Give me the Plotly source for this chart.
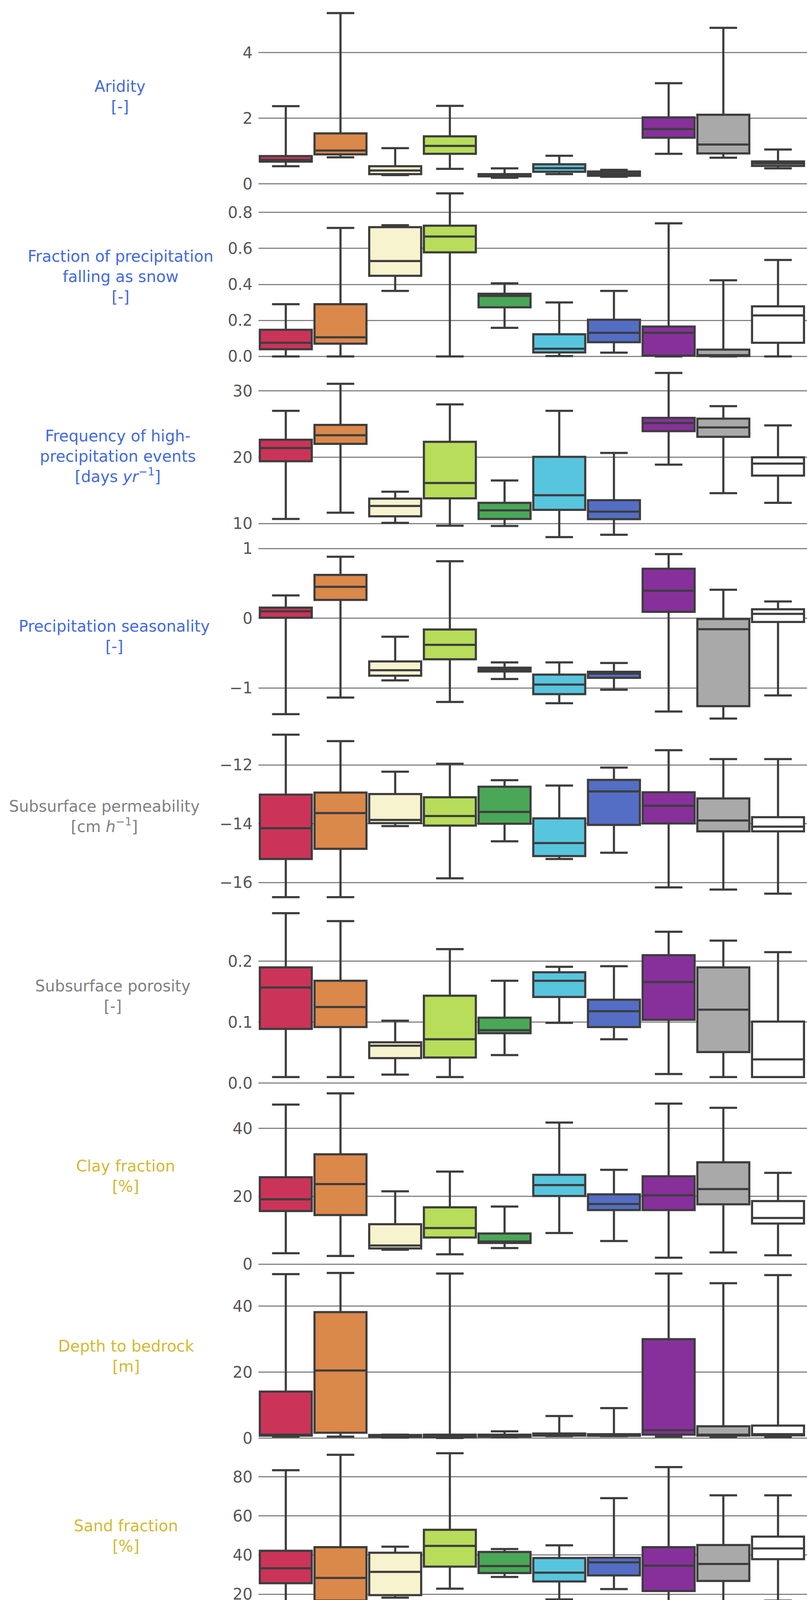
import plotly.graph_objects as go
from plotly.subplots import make_subplots

clusters = [1, 2, 3, 4, 5, 6, 7, 8, 9, 10]
cluster_colors = ["#CB3458", "#DB884B", "#F7F3CF", "#B7DD5A", "#4AA757",
                  "#58C5DF", "#546EC6", "#87309C", "#A9A9A9", "#FFFFFF"]

group_names = ["Climate", "Geology", "Soil", "Topography", "Vegetation"]
group_colors = ["#4169E1", "#808080", "#D4B830", "#D63D33", "#228B22"]

# rows: lower whisker, Q1, median, Q3, upper whisker ; columns: clusters 1..10
aridity = [
    [0.54, 0.81, 0.27, 0.46, 0.19, 0.30, 0.22, 0.92, 0.80, 0.475],
    [0.68, 0.90, 0.30, 0.92, 0.23, 0.37, 0.25, 1.41, 0.93, 0.55],
    [0.73, 1.02, 0.41, 1.16, 0.265, 0.48, 0.31, 1.675, 1.20, 0.62],
    [0.85, 1.54, 0.54, 1.45, 0.30, 0.60, 0.38, 2.03, 2.11, 0.685],
    [2.37, 5.21, 1.09, 2.38, 0.475, 0.86, 0.43, 3.07, 4.76, 1.05],
]
snow = [
    [0.0, 0.0, 0.364, 0.0, 0.159, 0.002, 0.021, 0.0, 0.0, 0.0],
    [0.040, 0.071, 0.448, 0.578, 0.273, 0.022, 0.079, 0.005, 0.002, 0.076],
    [0.076, 0.106, 0.53, 0.666, 0.336, 0.043, 0.131, 0.131, 0.007, 0.228],
    [0.148, 0.29, 0.718, 0.726, 0.348, 0.123, 0.204, 0.166, 0.038, 0.278],
    [0.29, 0.714, 0.729, 0.906, 0.406, 0.30, 0.364, 0.739, 0.423, 0.536],
]
high_prec = [
    [10.70, 11.64, 10.12, 9.69, 9.65, 7.96, 8.32, 18.88, 14.58, 13.13],
    [19.39, 22.02, 11.10, 13.80, 10.70, 12.07, 10.67, 23.93, 23.07, 17.24],
    [21.39, 23.31, 12.66, 16.11, 12.0, 14.27, 11.80, 25.15, 24.48, 19.04],
    [22.64, 24.87, 13.76, 22.33, 13.13, 20.06, 13.52, 25.93, 25.81, 19.98],
    [26.99, 31.06, 14.81, 27.96, 16.50, 26.99, 20.65, 32.70, 27.69, 24.79],
]
seasonality = [
    [-1.374, -1.136, -0.890, -1.199, -0.871, -1.218, -1.024, -1.337, -1.438, -1.106],
    [0.007, 0.264, -0.823, -0.588, -0.763, -1.087, -0.853, 0.093, -1.259, -0.052],
    [0.10, 0.451, -0.745, -0.380, -0.734, -0.950, -0.793, 0.395, -0.156, 0.063],
    [0.153, 0.622, -0.618, -0.160, -0.708, -0.808, -0.767, 0.711, -0.011, 0.130],
    [0.328, 0.883, -0.264, 0.819, -0.633, -0.633, -0.641, 0.920, 0.410, 0.242],
]
permeability = [
    [-16.50, -16.50, -14.08, -15.86, -14.60, -15.20, -14.99, -16.17, -16.24, -16.38],
    [-15.20, -14.855, -13.98, -14.065, -14.00, -15.10, -14.04, -13.99, -14.26, -14.26],
    [-14.155, -13.64, -13.87, -13.74, -13.60, -14.66, -12.90, -13.39, -13.89, -14.10],
    [-13.01, -12.94, -12.99, -13.10, -12.74, -13.82, -12.51, -12.93, -13.14, -13.78],
    [-10.97, -11.19, -12.23, -11.96, -12.52, -12.70, -12.09, -11.5, -11.80, -11.80],
]
porosity = [
    [0.010, 0.010, 0.014, 0.010, 0.046, 0.099, 0.072, 0.015, 0.010, 0.010],
    [0.089, 0.092, 0.041, 0.042, 0.082, 0.1415, 0.092, 0.104, 0.051, 0.010],
    [0.157, 0.125, 0.0615, 0.072, 0.087, 0.168, 0.118, 0.166, 0.1206, 0.039],
    [0.190, 0.168, 0.067, 0.1435, 0.1075, 0.182, 0.137, 0.210, 0.190, 0.101],
    [0.279, 0.266, 0.1025, 0.220, 0.168, 0.191, 0.192, 0.2485, 0.234, 0.215],
]
clay = [
    [3.24, 2.43, 4.27, 2.94, 4.78, 9.20, 6.85, 1.91, 3.46, 2.65],
    [15.68, 14.50, 4.64, 7.88, 6.26, 20.10, 15.97, 15.97, 17.67, 12.0],
    [19.14, 23.63, 5.52, 10.67, 6.70, 23.34, 17.74, 20.32, 22.16, 13.62],
    [25.62, 32.39, 11.78, 16.78, 9.05, 26.35, 20.61, 25.91, 30.04, 18.62],
    [47.04, 50.35, 21.50, 27.31, 17.0, 41.74, 27.83, 47.34, 46.08, 26.94],
]
depth = [
    [0.5, 0.5, 0.2, 0.07, 0.36, 0.65, 0.65, 0.5, 0.36, 0.36],
    [0.8, 1.67, 0.43, 0.36, 0.5, 0.8, 0.72, 1.09, 0.8, 0.87],
    [1.1, 20.51, 0.65, 0.58, 0.87, 1.09, 1.0, 2.46, 1.09, 1.23],
    [14.13, 38.19, 1.0, 1.09, 1.09, 1.45, 1.23, 30.0, 3.62, 3.84],
    [49.7, 50.06, 1.09, 49.9, 2.1, 6.74, 9.13, 49.9, 46.96, 49.4],
]
sand = [
    [7.98, 8.7, 18.2, 22.8, 28.8, 17.3, 22.6, 9.9, 9.2, 16.7],
    [25.6, 16.7, 19.5, 34.1, 30.8, 26.5, 29.6, 21.6, 26.75, 37.9],
    [33.25, 28.3, 31.4, 44.7, 34.4, 31.0, 36.3, 34.6, 35.45, 43.4],
    [42.2, 44.05, 41.2, 52.9, 41.6, 38.5, 38.65, 44.05, 45.15, 49.45],
    [83.4, 91.3, 44.3, 92.1, 43.1, 45.0, 69.1, 85.0, 70.55, 70.55],
]
area = [
    [10, 10, 10, 5, 5, 5, 5, 10, 5, 5],
    [65, 130, 30, 30, 44, 30, 20, 150, 30, 20],
    [500, 786, 393, 393, 175, 284, 262, 807, 284, 218],
    [830, 1157, 830, 720, 350, 677, 568, 1920, 611, 502],
    [8253, 5195, 1877, 14211, 568, 1746, 1594, 25715, 1812, 1986],
]
elevation = [
    [16, 22, 1167, 22, 605, 238, 151, 27, 32, 27],
    [168, 281, 1211, 1832, 768, 319, 481, 454, 97, 422],
    [303, 389, 1275, 2497, 886, 454, 643, 703, 195, 611],
    [535, 1378, 1519, 3005, 984, 746, 757, 1362, 697, 1032],
    [1654, 3330, 3367, 3573, 1070, 1054, 1027, 2670, 2075, 1611],
]
slope = [
    [0.8, 0.8, 91.1, 0.8, 113.2, 33.3, 29.5, 0.8, 2.3, 1.2],
    [7.0, 5.0, 126, 95.7, 129.8, 62.0, 75.6, 6.2, 6.2, 47.7],
    [17.8, 8.1, 172.5, 112, 131.8, 81.8, 107, 10.9, 8.1, 60.9],
    [39.5, 44.6, 212.4, 141.5, 160.9, 109.7, 119, 37.2, 60.1, 87.6],
    [132.2, 136, 256.2, 172.5, 175.2, 124.8, 142.2, 176.4, 169.8, 184.1],
]
forest = [
    [0.0, 0.0, 0.816, 0.01, 0.976, 0.861, 0.867, 0.0, 0.01, 0.587],
    [0.690, 0.037, 0.843, 0.557, 0.990, 0.974, 0.986, 0.002, 0.280, 0.972],
    [0.885, 0.202, 0.919, 0.706, 0.996, 0.986, 0.996, 0.037, 0.508, 0.983],
    [0.970, 0.760, 0.963, 0.824, 0.999, 0.998, 1.0, 0.410, 0.857, 0.996],
    [1.0, 1.0, 0.994, 0.998, 1.0, 1.0, 1.0, 0.979, 1.0, 1.0],
]
gvf = [
    [0.298, 0.183, 0.466, 0.218, 0.777, 0.807, 0.744, 0.280, 0.193, 0.621],
    [0.797, 0.592, 0.580, 0.482, 0.835, 0.862, 0.840, 0.431, 0.478, 0.866],
    [0.847, 0.682, 0.722, 0.585, 0.848, 0.880, 0.871, 0.504, 0.693, 0.883],
    [0.876, 0.750, 0.765, 0.632, 0.859, 0.890, 0.885, 0.584, 0.823, 0.895],
    [0.9135, 0.899, 0.814, 0.857, 0.885, 0.918, 0.909, 0.823, 0.903, 0.907],
]
lai = [
    [0.66, 0.41, 1.52, 0.52, 3.22, 3.37, 3.22, 0.60, 0.38, 2.01],
    [3.82, 1.60, 1.79, 1.26, 3.67, 4.08, 3.75, 1.05, 1.28, 4.58],
    [4.60, 2.13, 2.85, 1.64, 3.80, 4.43, 4.25, 1.35, 2.62, 4.87],
    [4.94, 2.64, 3.17, 1.97, 3.90, 4.85, 4.66, 1.75, 4.25, 5.11],
    [5.58, 5.16, 3.74, 4.04, 4.35, 5.34, 4.93, 4.42, 5.50, 5.50],
]

labels = [
    "Aridity<br>[-]",
    "Fraction of precipitation<br>falling as snow<br>[-]",
    "Frequency of high-<br>precipitation events<br>[days <i>yr</i><sup>−1</sup>]",
    "Precipitation seasonality<br>[-]",
    "Subsurface permeability<br>[cm <i>h</i><sup>−1</sup>]",
    "Subsurface porosity<br>[-]",
    "Clay fraction<br>[%]",
    "Depth to bedrock<br>[m]",
    "Sand fraction<br>[%]",
    "Area<br>[<i>km</i><sup>2</sup>]",
    "Mean elevation<br>[m]",
    "Mean slope<br>[m <i>km</i><sup>−1</sup>]",
    "Forest fraction<br>[-]",
    "Green vegetation<br>fraction maximum<br>[-]",
    "LAI maximum<br>[-]",
]
label_groups = [0, 0, 0, 0, 1, 1, 2, 2, 2, 3, 3, 3, 4, 4, 4]

ytick_vals = [
    [0, 2, 4], [0, 0.2, 0.4, 0.6, 0.8], [10, 20, 30], [-1, 0, 1], [-16, -14, -12],
    [0, 0.1, 0.2], [0, 20, 40], [0, 20, 40], [20, 40, 60, 80], [0, 10000, 20000],
    [0, 1000, 2000, 3000], [0, 100, 200], [0, 0.25, 0.5, 0.75, 1.0],
    [0.2, 0.4, 0.6, 0.8], [2, 4],
]
ytick_text = [
    ["0", "2", "4"], ["0.0", "0.2", "0.4", "0.6", "0.8"], ["10", "20", "30"],
    ["−1", "0", "1"], ["−16", "−14", "−12"], ["0.0", "0.1", "0.2"], ["0", "20", "40"],
    ["0", "20", "40"], ["20", "40", "60", "80"], ["0", "10000", "20000"],
    ["0", "1000", "2000", "3000"], ["0", "100", "200"],
    ["0.00", "0.25", "0.50", "0.75", "1.00"], ["0.2", "0.4", "0.6", "0.8"], ["2", "4"],
]

panels = [aridity, snow, high_prec, seasonality, permeability, porosity, clay, depth,
          sand, area, elevation, slope, forest, gvf, lai]

# ---- layout geometry (pixels) ----
W, H = 2067, 7138
ML, MR, MT, MB = 662, 0, 0, 212
PW, PH = W - ML - MR, H - MT - MB

y_ranges = [
    [-0.080, 5.405], [-0.0558, 0.9435], [6.565, 33.67], [-1.549, 1.031],
    [-16.81, -10.686], [-0.005, 0.2904], [-0.55, 52.47], [-2.35, 52.14],
    [3.74, 95.77], [-1491, 26834], [-186, 3705], [-13.25, 267.4],
    [-0.061, 1.04], [0.1439, 0.9459], [0.086, 5.786],
]
label_cx = [307, 309, 301, 292, 267, 289, 322, 323, 322, 307, 291, 297, 263, 310, 328]

EDGE = "#3d3d3d"
TICK = "#555555"
FONT = "DejaVu Sans"

n = len(panels)
fig = make_subplots(rows=n, cols=1, shared_xaxes=False, vertical_spacing=0)

for r, stats in enumerate(panels, start=1):
    lo, q1, med, q3, hi = stats
    for i, c in enumerate(clusters):
        fig.add_trace(
            go.Box(
                x=[c], lowerfence=[lo[i]], q1=[q1[i]], median=[med[i]],
                q3=[q3[i]], upperfence=[hi[i]],
                fillcolor=cluster_colors[i],
                line=dict(color=EDGE, width=5.5),
                width=0.95, whiskerwidth=0.53, boxpoints=False,
                showlegend=False, hoverinfo="skip",
            ),
            row=r, col=1,
        )
    fig.update_yaxes(
        range=y_ranges[r - 1], tickvals=ytick_vals[r - 1], ticktext=ytick_text[r - 1],
        showgrid=True, gridcolor="#848484", gridwidth=3, zeroline=False,
        showline=False, ticks="", ticklabelstandoff=14,
        tickfont=dict(family=FONT, size=40, color=TICK),
        row=r, col=1,
    )
    fig.update_xaxes(
        range=[0.5, 10.53], tickvals=clusters, ticktext=[str(c) for c in clusters],
        showgrid=False, zeroline=False, showline=False, ticks="",
        showticklabels=(r == n), ticklabelstandoff=10,
        tickfont=dict(family=FONT, size=40, color=TICK),
        row=r, col=1,
    )
    yname = "y" if r == 1 else f"y{r}"
    fig.add_annotation(
        text=labels[r - 1], xref="paper", yref=f"{yname} domain",
        x=(label_cx[r - 1] - ML) / PW, y=0.5, xanchor="center", yanchor="middle",
        showarrow=False, align="center",
        font=dict(family=FONT, size=40, color=group_colors[label_groups[r - 1]]),
    )

# ---- manual legend ----
def px_x(p):
    return (p - ML) / PW

def px_y(p):
    return 1 - (p - MT) / PH

shapes = []
bx0, bx1, by0, by1, rad = 179, 570, 6805, 7128, 10
path = (f"M {px_x(bx0 + rad)},{px_y(by0)} L {px_x(bx1 - rad)},{px_y(by0)} "
        f"Q {px_x(bx1)},{px_y(by0)} {px_x(bx1)},{px_y(by0 + rad)} "
        f"L {px_x(bx1)},{px_y(by1 - rad)} Q {px_x(bx1)},{px_y(by1)} {px_x(bx1 - rad)},{px_y(by1)} "
        f"L {px_x(bx0 + rad)},{px_y(by1)} Q {px_x(bx0)},{px_y(by1)} {px_x(bx0)},{px_y(by1 - rad)} "
        f"L {px_x(bx0)},{px_y(by0 + rad)} Q {px_x(bx0)},{px_y(by0)} {px_x(bx0 + rad)},{px_y(by0)} Z")
shapes.append(dict(type="path", path=path, xref="paper", yref="paper",
                   line=dict(color="#c8c8c8", width=3), fillcolor="rgba(255,255,255,0.8)",
                   layer="above"))
for k, (name, col) in enumerate(zip(group_names, group_colors)):
    cy = 6840 + 61.8 * k
    shapes.append(dict(type="rect", xref="paper", yref="paper",
                       x0=px_x(193), x1=px_x(281), y0=px_y(cy - 16), y1=px_y(cy + 16),
                       fillcolor=col, line=dict(width=0), layer="above"))
    fig.add_annotation(text=name, xref="paper", yref="paper", x=px_x(313), y=px_y(cy),
                       xanchor="left", yanchor="middle", showarrow=False,
                       font=dict(family=FONT, size=40, color=TICK))

fig.update_layout(
    width=W, height=H, margin=dict(l=ML, r=MR, t=MT, b=MB),
    paper_bgcolor="white", plot_bgcolor="white",
    boxmode="overlay", showlegend=False, shapes=shapes,
    font=dict(family=FONT, size=40, color=TICK),
)

fig.write_html(
    "out.html",
    config={"displayModeBar": False},
    post_script="document.body.style.margin='0';document.body.style.overflow='hidden';",
)
